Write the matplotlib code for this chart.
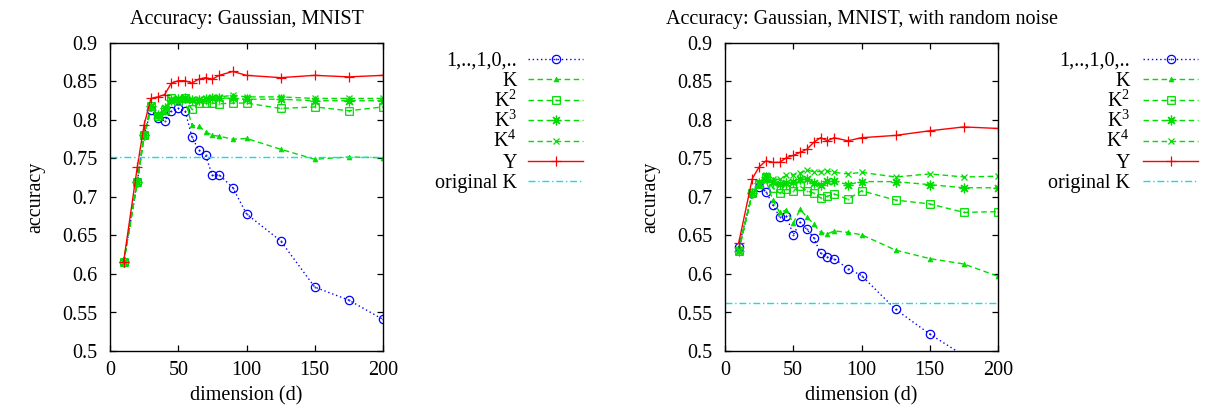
import numpy as np
import matplotlib
matplotlib.use('Agg')
import matplotlib.pyplot as plt
from matplotlib.path import Path
from matplotlib.lines import Line2D

plt.rcParams['font.family'] = ['Liberation Serif', 'DejaVu Serif']
plt.rcParams['mathtext.fontset'] = 'custom'
plt.rcParams['mathtext.rm'] = 'Liberation Serif'
plt.rcParams['mathtext.it'] = 'Liberation Serif:italic'
plt.rcParams['font.size'] = 14.5

# dimensions used in both runs
dims = [10, 20, 25, 30, 35, 40, 45, 50, 55, 60, 65, 70, 75, 80, 90, 100, 125, 150, 175, 200]

series_labels = ['1,..,1,0,..', 'K', r'K$^{2}$', r'K$^{3}$', r'K$^{4}$', 'Y', 'original K']

# left panel: plain MNIST
plain_ones = [0.615, 0.72, 0.78, 0.813, 0.803, 0.799, 0.812, 0.815, 0.812, 0.778,
              0.761, 0.754, 0.728, 0.729, 0.712, 0.678, 0.643, 0.583, 0.566, 0.541]
plain_k1 = [0.615, 0.72, 0.78, 0.815, 0.805, 0.81, 0.825, 0.825, 0.826, 0.793,
            0.792, 0.785, 0.780, 0.779, 0.775, 0.776, 0.762, 0.749, 0.752, 0.751]
plain_k2 = [0.615, 0.72, 0.78, 0.818, 0.805, 0.813, 0.829, 0.825, 0.828, 0.814,
            0.822, 0.822, 0.822, 0.821, 0.822, 0.822, 0.815, 0.817, 0.812, 0.817]
plain_k3 = [0.615, 0.72, 0.78, 0.818, 0.806, 0.815, 0.826, 0.827, 0.828, 0.826,
            0.826, 0.827, 0.828, 0.829, 0.828, 0.827, 0.827, 0.825, 0.825, 0.825]
plain_k4 = [0.615, 0.72, 0.78, 0.818, 0.806, 0.815, 0.827, 0.828, 0.829, 0.827,
            0.827, 0.828, 0.830, 0.830, 0.832, 0.830, 0.830, 0.828, 0.828, 0.828]
plain_y = [0.616, 0.739, 0.794, 0.828, 0.830, 0.833, 0.848, 0.851, 0.851, 0.848,
           0.853, 0.855, 0.853, 0.858, 0.863, 0.858, 0.855, 0.858, 0.856, 0.858]
plain_orig = 0.752

# right panel: MNIST with random noise
noisy_ones = [0.635, 0.705, 0.713, 0.707, 0.690, 0.674, 0.675, 0.651, 0.667, 0.658,
              0.647, 0.627, 0.622, 0.620, 0.607, 0.598, 0.554, 0.522, 0.494, 0.47]
noisy_k1 = [0.630, 0.705, 0.716, 0.722, 0.696, 0.680, 0.683, 0.666, 0.684, 0.674,
            0.665, 0.654, 0.652, 0.656, 0.654, 0.651, 0.631, 0.620, 0.613, 0.597]
noisy_k2 = [0.630, 0.705, 0.717, 0.726, 0.712, 0.705, 0.710, 0.708, 0.714, 0.708,
            0.705, 0.699, 0.701, 0.704, 0.697, 0.708, 0.696, 0.691, 0.680, 0.681]
noisy_k3 = [0.630, 0.705, 0.718, 0.726, 0.719, 0.717, 0.718, 0.719, 0.723, 0.723,
            0.718, 0.715, 0.721, 0.721, 0.716, 0.720, 0.720, 0.716, 0.712, 0.712]
noisy_k4 = [0.632, 0.705, 0.718, 0.729, 0.723, 0.723, 0.728, 0.729, 0.731, 0.735,
            0.733, 0.733, 0.734, 0.732, 0.730, 0.732, 0.726, 0.730, 0.726, 0.727]
noisy_y = [0.640, 0.724, 0.739, 0.747, 0.745, 0.745, 0.751, 0.754, 0.758, 0.762,
           0.771, 0.777, 0.773, 0.777, 0.773, 0.777, 0.780, 0.786, 0.791, 0.789]
noisy_orig = 0.562

# gnuplot style point markers with a dot in the middle
dot = Path.circle((0, 0), 0.08)
circ_dot = Path.make_compound_path(Path.unit_circle(), dot)
sq = Path([(-1, -1), (1, -1), (1, 1), (-1, 1), (-1, -1)],
          [Path.MOVETO, Path.LINETO, Path.LINETO, Path.LINETO, Path.CLOSEPOLY])
sq_dot = Path.make_compound_path(sq, dot)

blue = '#0000ff'
green = '#00dd00'
red = '#ff0000'
cyan = '#00e5ee'
dotted = (0, (1, 2))
dashed = (0, (4, 2.5))
dashdot = (0, (5, 2, 1, 2))

# one style per series, same order as series_labels
styles = [
    dict(color=blue, ls=dotted, lw=1, marker=circ_dot, ms=6, mfc='none', mew=0.9),
    dict(color=green, ls=dashed, lw=1, marker='^', ms=3.5, mew=0.5),
    dict(color=green, ls=dashed, lw=1, marker=sq_dot, ms=5.5, mfc='none', mew=0.9),
    dict(color=green, ls=dashed, lw=1, marker=(8, 2, 0), ms=7, mew=0.9),
    dict(color=green, ls=dashed, lw=1, marker='x', ms=5, mew=0.9),
    dict(color=red, ls='-', lw=1, marker='+', ms=7, mew=0.9),
    dict(color=cyan, ls=dashdot, lw=1),
]


def draw_panel(ax, curves, orig, title):

    for i, vals in enumerate(curves):
        ax.plot(dims, vals, label=series_labels[i], **styles[i])
    ax.axhline(orig, label=series_labels[6], **styles[6])

    ax.set_xlim(0, 200)
    ax.set_ylim(0.5, 0.9)
    ax.set_xticks([0, 50, 100, 150, 200])
    ax.set_yticks([0.5, 0.55, 0.6, 0.65, 0.7, 0.75, 0.8, 0.85, 0.9])
    ax.set_yticklabels(['0.5', '0.55', '0.6', '0.65', '0.7', '0.75', '0.8', '0.85', '0.9'])
    ax.tick_params(direction='in', top=True, right=True, length=4, width=0.9)
    ax.tick_params(axis='x', pad=7)
    ax.tick_params(axis='y', pad=9)
    for s in ax.spines.values():
        s.set_linewidth(1)
    ax.set_xlabel('dimension (d)', labelpad=5)
    ax.set_ylabel('accuracy', labelpad=12)
    ax.set_title(title, fontsize=14.5, pad=14)


def draw_key(text_right, sample_left, sample_right):

    # gnuplot-like key: label right aligned, sample line with one point on the right
    W, H = 1207.0, 419.0
    for i, lab in enumerate(series_labels):
        yc = 59 + 20.4 * i
        yf = 1 - yc / H
        fig.text(text_right / W, 1 - (yc + 6.5) / H, lab,
                 ha='right', va='baseline', fontsize=14.5)
        st = styles[i]
        fig.add_artist(Line2D([sample_left / W, sample_right / W], [yf, yf],
                              transform=fig.transFigure, color=st['color'],
                              ls=st['ls'], lw=st['lw']))
        if 'marker' in st:
            xm = (sample_left + sample_right) / 2 / W
            fig.add_artist(Line2D([xm], [yf], transform=fig.transFigure, ls='none',
                                  color=st['color'], marker=st['marker'], ms=st['ms'],
                                  mfc=st.get('mfc', st['color']), mew=st['mew']))


fig = plt.figure(figsize=(12.07, 4.19), dpi=100)
ax1 = fig.add_axes([110 / 1207, 68 / 419, 273 / 1207, 308 / 419])
ax2 = fig.add_axes([725 / 1207, 68 / 419, 273 / 1207, 308 / 419])

draw_panel(ax1, [plain_ones, plain_k1, plain_k2, plain_k3, plain_k4, plain_y],
           plain_orig, 'Accuracy: Gaussian, MNIST')
draw_panel(ax2, [noisy_ones, noisy_k1, noisy_k2, noisy_k3, noisy_k4, noisy_y],
           noisy_orig, 'Accuracy: Gaussian, MNIST, with random noise')

draw_key(517, 528, 583)
draw_key(1130, 1143, 1198)

fig.savefig('out.png', dpi=100)
